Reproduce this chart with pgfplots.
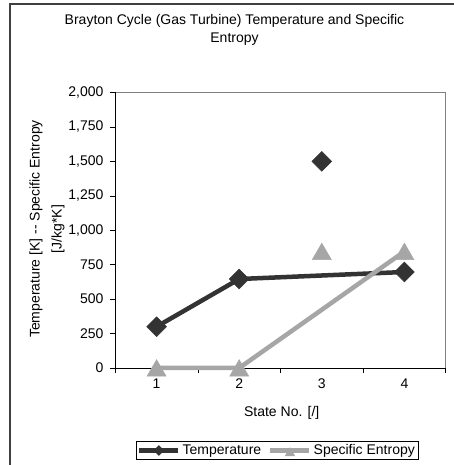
\documentclass[border=0pt]{standalone}
\usepackage{fontspec}
\setmainfont{Liberation Sans}
\usepackage{pgfplots}
\pgfplotsset{compat=1.18}
\definecolor{tempc}{HTML}{333333}
\definecolor{entc}{HTML}{A6A6A6}
\definecolor{framec}{HTML}{808080}

\begin{document}
\fontsize{14pt}{17pt}\selectfont
\begin{tikzpicture}
\useasboundingbox (0,0) rectangle (454pt,465pt);
% chart area border (only top and left visible)
\draw[line width=2pt, black!75] (10pt,0) -- (10pt,461pt) -- (454pt,461pt);
\begin{axis}[
  at={(115.3pt,97pt)}, anchor=south west,
  scale only axis, width=330.4pt, height=275.5pt,
  xmin=0.5, xmax=4.5, ymin=0, ymax=2000,
  clip=false,
  axis line style={draw=none},
  xtick={0.5,1.5,2.5,3.5,4.5}, xticklabels={},
  extra x ticks={1,2,3,4},
  extra x tick style={major tick length=0pt},
  xticklabel style={yshift=-6pt},
  ytick={0,250,...,2000},
  yticklabel style={xshift=-2pt},
  tick align=outside, xtick pos=bottom, ytick pos=left,
  major tick length=5pt,
  tick style={black, line width=0.6pt},
  /pgf/number format/assume math mode=true,
  /pgf/number format/1000 sep={,},
  title={Brayton Cycle (Gas Turbine) Temperature and Specific\\Entropy},
  title style={at={(0.3608,1.205)}, anchor=center, align=center,
    font=\fontsize{14pt}{18pt}\selectfont},
  xlabel={State No. [/]},
  xlabel style={at={(0.5036,-0.163)}, anchor=center},
  ylabel={Temperature [K] -{}- Specific Entropy\\{}[J/kg*K]},
  ylabel style={at={(-0.2065,0.5045)}, anchor=center, align=center,
    font=\fontsize{14pt}{22pt}\selectfont},
  legend columns=2,
  legend style={at={(0.4894,-0.2995)}, anchor=center, draw=black,
    line width=0.6pt, inner sep=1pt, cells={anchor=west},
    /tikz/every even column/.append style={column sep=5pt}},
  legend image code/.code={%
    \draw[#1, /tikz/every mark/.append style={scale=0.5}, mark repeat=2, mark phase=2]
      plot coordinates {(0pt,0pt) (19.5pt,0pt) (39pt,0pt)};},
]
% plot frame: grey top/right, black axes left/bottom
\draw[framec, line width=0.8pt] (rel axis cs:0,1) -- (rel axis cs:1,1) -- (rel axis cs:1,0);
\draw[black, line width=0.8pt] (rel axis cs:0,1) -- (rel axis cs:0,0) -- (rel axis cs:1,0);

\addplot[tempc, line width=4.5pt, mark=square*, mark size=7pt,
  mark options={rotate=45, line width=0.5pt}]
  coordinates {(1,300) (2,646) (4,697)};
\addlegendentry{Temperature}
\addplot[tempc, only marks, mark=square*, mark size=7pt,
  mark options={rotate=45, line width=0.5pt}, forget plot]
  coordinates {(3,1500)};

\addplot[entc, line width=4.5pt, mark=triangle*, mark size=11pt,
  mark options={line width=0.5pt, yshift=-2.7pt}]
  coordinates {(1,0) (2,0) (4,846)};
\addlegendentry{Specific Entropy}
\addplot[entc, only marks, mark=triangle*, mark size=11pt,
  mark options={line width=0.5pt, yshift=-2.7pt}, forget plot]
  coordinates {(3,846)};
\end{axis}
\end{tikzpicture}
\end{document}
